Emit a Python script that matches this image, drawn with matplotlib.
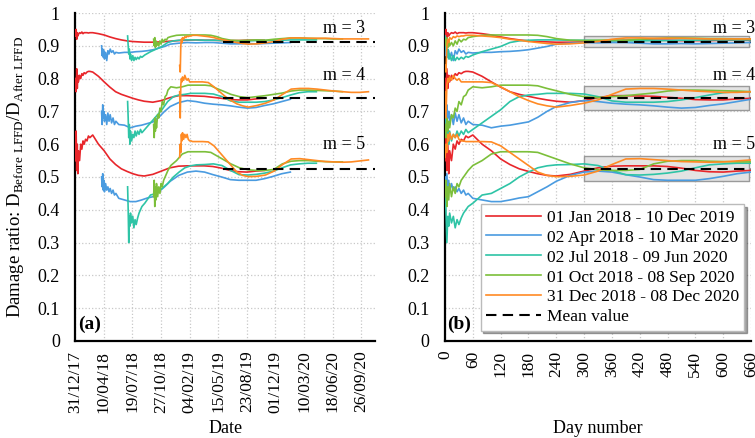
import numpy as np
import matplotlib
matplotlib.use("Agg")
import matplotlib.pyplot as plt
import matplotlib.dates as mdates

plt.rcParams["font.family"] = ["Liberation Serif", "DejaVu Serif"]
plt.rcParams["mathtext.fontset"] = "custom"
plt.rcParams["mathtext.rm"] = "Liberation Serif"
plt.rcParams["font.size"] = 13

# day number inside each monitoring window
DAYS = [0, 2, 4, 6, 8, 10, 14, 18, 22, 26, 30, 35, 40, 45, 50, 60, 80, 100, 120, 140,
        160, 180, 200, 220, 240, 270, 300, 330, 360, 390, 420, 450, 480, 510, 540, 570,
        600, 630, 660]

WINDOWS = ["01 Jan 2018 - 10 Dec 2019", "02 Apr 2018 - 10 Mar 2020", "02 Jul 2018 - 09 Jun 2020",
           "01 Oct 2018 - 08 Sep 2020", "31 Dec 2018 - 08 Dec 2020"]
STARTS = ["2018-01-01", "2018-04-02", "2018-07-02", "2018-10-01", "2018-12-31"]
COLORS = ["#e8262b", "#4a9be0", "#2ec4a6", "#7cbf3a", "#ff8a24"]

# m = 3
red_m3 = [0.93, 0.95, 0.92, 0.94, 0.93, 0.935, 0.94, 0.938, 0.942, 0.937, 0.94, 0.94, 0.94, 0.939, 0.94, 0.94,
          0.937, 0.933, 0.927, 0.922, 0.918, 0.915, 0.913, 0.912, 0.911, 0.911, 0.912, 0.914, 0.916, 0.917,
          0.918, 0.917, 0.917, 0.916, 0.916, 0.916, 0.917, 0.917, 0.917]
blue_m3 = [0.90, 0.87, 0.89, 0.865, 0.885, 0.86, 0.88, 0.855, 0.885, 0.875, 0.89, 0.88, 0.885, 0.875, 0.88, 0.878,
           0.88, 0.88, 0.882, 0.883, 0.885, 0.888, 0.893, 0.898, 0.905, 0.908, 0.91, 0.909, 0.91, 0.91,
           0.908, 0.906, 0.906, 0.907, 0.906, 0.907, 0.908, 0.909, 0.91]
teal_m3 = [0.93, 0.90, 0.875, 0.89, 0.86, 0.875, 0.855, 0.87, 0.855, 0.865, 0.858, 0.865, 0.86, 0.868, 0.865, 0.872,
           0.882, 0.89, 0.898, 0.91, 0.915, 0.917, 0.918, 0.918, 0.918, 0.917, 0.917, 0.916, 0.915, 0.915,
           0.915, 0.916, 0.916, 0.917, 0.917, 0.918, 0.918, 0.918, 0.918]
green_m3 = [0.92, 0.90, 0.925, 0.895, 0.915, 0.90, 0.91, 0.90, 0.915, 0.905, 0.92, 0.912, 0.92, 0.918, 0.925, 0.928,
            0.932, 0.933, 0.933, 0.933, 0.933, 0.933, 0.932, 0.928, 0.922, 0.917, 0.916, 0.917, 0.918, 0.917,
            0.92, 0.922, 0.924, 0.924, 0.923, 0.922, 0.922, 0.921, 0.921]
orange_m3 = [0.84, 0.82, 0.90, 0.92, 0.91, 0.925, 0.92, 0.928, 0.925, 0.93, 0.928, 0.93, 0.93, 0.932, 0.932, 0.932,
             0.93, 0.928, 0.925, 0.92, 0.917, 0.913, 0.91, 0.907, 0.905, 0.906, 0.909, 0.913, 0.92, 0.924,
             0.924, 0.923, 0.923, 0.923, 0.922, 0.921, 0.921, 0.921, 0.921]

# m = 4
red_m4 = [0.80, 0.76, 0.83, 0.77, 0.81, 0.79, 0.81, 0.80, 0.815, 0.81, 0.818, 0.815, 0.82, 0.822, 0.822, 0.82,
          0.807, 0.79, 0.774, 0.76, 0.752, 0.746, 0.74, 0.735, 0.731, 0.728, 0.733, 0.742, 0.748, 0.748,
          0.747, 0.746, 0.743, 0.74, 0.736, 0.735, 0.735, 0.738, 0.74]
blue_m4 = [0.70, 0.66, 0.72, 0.68, 0.70, 0.67, 0.69, 0.66, 0.695, 0.67, 0.69, 0.665, 0.68, 0.66, 0.67, 0.66,
           0.658, 0.65, 0.655, 0.658, 0.663, 0.668, 0.682, 0.70, 0.715, 0.727, 0.733, 0.73, 0.725, 0.722,
           0.72, 0.717, 0.713, 0.71, 0.712, 0.718, 0.723, 0.73, 0.737]
teal_m4 = [0.73, 0.68, 0.62, 0.66, 0.60, 0.64, 0.61, 0.63, 0.62, 0.64, 0.625, 0.64, 0.63, 0.645, 0.635, 0.645,
           0.665, 0.685, 0.705, 0.73, 0.745, 0.75, 0.752, 0.755, 0.755, 0.755, 0.753, 0.745, 0.732, 0.728,
           0.728, 0.728, 0.73, 0.735, 0.742, 0.75, 0.757, 0.76, 0.76]
green_m4 = [0.66, 0.62, 0.68, 0.64, 0.67, 0.65, 0.69, 0.68, 0.71, 0.70, 0.73, 0.72, 0.745, 0.75, 0.765, 0.775,
            0.772, 0.775, 0.78, 0.78, 0.78, 0.78, 0.778, 0.77, 0.763, 0.752, 0.745, 0.742, 0.745, 0.748,
            0.752, 0.756, 0.762, 0.765, 0.765, 0.764, 0.763, 0.762, 0.76]
orange_m4 = [0.76, 0.68, 0.78, 0.80, 0.79, 0.805, 0.795, 0.81, 0.80, 0.795, 0.80, 0.79, 0.79, 0.79, 0.79, 0.79,
             0.79, 0.788, 0.775, 0.76, 0.745, 0.733, 0.723, 0.717, 0.713, 0.718, 0.725, 0.735, 0.752, 0.768,
             0.77, 0.77, 0.768, 0.765, 0.762, 0.76, 0.758, 0.758, 0.76]

# m = 5
red_m5 = [0.55, 0.64, 0.52, 0.60, 0.51, 0.58, 0.55, 0.60, 0.585, 0.61, 0.60, 0.615, 0.61, 0.625, 0.62, 0.628,
          0.60, 0.58, 0.555, 0.538, 0.525, 0.517, 0.51, 0.505, 0.503, 0.508, 0.518, 0.528, 0.533, 0.534,
          0.534, 0.534, 0.532, 0.527, 0.52, 0.516, 0.515, 0.518, 0.52]
blue_m5 = [0.50, 0.47, 0.51, 0.46, 0.49, 0.455, 0.48, 0.46, 0.47, 0.455, 0.465, 0.45, 0.46, 0.445, 0.45, 0.435,
           0.43, 0.425, 0.425, 0.43, 0.436, 0.44, 0.455, 0.47, 0.487, 0.505, 0.515, 0.518, 0.515, 0.507,
           0.50, 0.492, 0.49, 0.49, 0.49, 0.495, 0.502, 0.51, 0.515]
teal_m5 = [0.47, 0.40, 0.30, 0.38, 0.35, 0.39, 0.36, 0.38, 0.345, 0.37, 0.355, 0.375, 0.39, 0.40, 0.41, 0.42,
           0.445, 0.45, 0.465, 0.48, 0.50, 0.515, 0.528, 0.534, 0.537, 0.538, 0.54, 0.535, 0.52, 0.507,
           0.506, 0.508, 0.512, 0.518, 0.528, 0.537, 0.54, 0.542, 0.542]
green_m5 = [0.44, 0.49, 0.41, 0.47, 0.43, 0.48, 0.44, 0.47, 0.45, 0.48, 0.47, 0.49, 0.50, 0.51, 0.52, 0.535,
            0.55, 0.57, 0.577, 0.577, 0.577, 0.577, 0.575, 0.565, 0.555, 0.54, 0.528, 0.522, 0.52, 0.52,
            0.523, 0.54, 0.548, 0.55, 0.55, 0.548, 0.547, 0.546, 0.546]
orange_m5 = [0.56, 0.60, 0.575, 0.63, 0.61, 0.635, 0.615, 0.63, 0.62, 0.63, 0.615, 0.61, 0.61, 0.608, 0.608, 0.608,
             0.608, 0.607, 0.595, 0.575, 0.555, 0.535, 0.515, 0.505, 0.501, 0.502, 0.506, 0.518, 0.538, 0.555,
             0.556, 0.553, 0.55, 0.547, 0.546, 0.545, 0.546, 0.549, 0.552]

SERIES = [[red_m3, red_m4, red_m5], [blue_m3, blue_m4, blue_m5], [teal_m3, teal_m4, teal_m5],
          [green_m3, green_m4, green_m5], [orange_m3, orange_m4, orange_m5]]

M_LABELS = ["m = 3", "m = 4", "m = 5"]
M_TEXT_Y = [0.954, 0.808, 0.60]
MEANS = [0.913, 0.742, 0.525]
BAND_LOW = [0.897, 0.704, 0.488]
BAND_HIGH = [0.930, 0.777, 0.564]

BASE = np.datetime64("2017-12-31")
MEAN_START_DATE = np.datetime64("2019-06-01")

fig = plt.figure(figsize=(7.55, 4.38), dpi=100)
axa = fig.add_axes([0.0997, 0.2215, 0.397, 0.7488])
axb = fig.add_axes([0.5894, 0.2215, 0.4053, 0.7488])

days = np.array(DAYS)
for i in range(5):
    dates = np.datetime64(STARTS[i]) + days.astype("timedelta64[D]")
    for vals in SERIES[i]:
        axa.plot(dates, vals, color=COLORS[i], lw=1.2, zorder=3)
        axb.plot(days, vals, color=COLORS[i], lw=1.2, zorder=3,
                 label=WINDOWS[i] if vals is SERIES[i][0] else None)

xend = BASE + np.timedelta64(1048, "D")
for k in range(3):
    axa.plot([MEAN_START_DATE, xend], [MEANS[k], MEANS[k]], color="black", ls=(0, (5, 3)), lw=1.5, zorder=4)
    axb.fill_between([300, 656], BAND_LOW[k], BAND_HIGH[k], facecolor="#e3e3e3", edgecolor="#9a9a9a",
                     lw=1.0, zorder=2)
    axb.plot([300, 660], [MEANS[k], MEANS[k]], color="black", ls=(0, (5, 3)), lw=1.5, zorder=4,
             label="Mean value" if k == 0 else None)
    axa.text(BASE + np.timedelta64(1013, "D"), M_TEXT_Y[k], M_LABELS[k], ha="right", va="center", fontsize=13)
    axb.text(668, M_TEXT_Y[k], M_LABELS[k], ha="right", va="center", fontsize=13, clip_on=False)

yt = np.round(np.arange(0, 1.01, 0.1), 1)
ylabels = ["0" if v == 0 else ("1" if v == 1 else f"{v:.1f}") for v in yt]
for ax in (axa, axb):
    ax.set_ylim(0, 1)
    ax.set_yticks(yt)
    ax.set_yticklabels(ylabels)
    ax.grid(True, color="#c8c8c8", ls=":", lw=0.9)
    ax.set_axisbelow(True)
    ax.tick_params(length=0)
    ax.tick_params(axis="y", pad=11, labelsize=13)
    ax.tick_params(axis="x", pad=7, labelsize=12.5)
    for s in ("top", "right"):
        ax.spines[s].set_visible(False)
    for s in ("left", "bottom"):
        ax.spines[s].set_linewidth(1.6)

axa.set_xlim(BASE, xend)
axa.set_xticks([BASE + np.timedelta64(100 * k, "D") for k in range(11)])
axa.xaxis.set_major_formatter(mdates.DateFormatter("%d/%m/%y"))
axa.tick_params(axis="x", labelrotation=90)
axa.set_xlabel("Date", fontsize=13)
axa.xaxis.set_label_coords(0.5, -0.24)
axa.set_ylabel(r"Damage ratio: D$_{\rm Before\ LFFD}$/D$_{\rm After\ LFFD}$", fontsize=13.5)
axa.yaxis.set_label_coords(-0.165, 0.5)
axa.text(0.008, 0.025, "(a)", transform=axa.transAxes, fontweight="bold", fontsize=14, ha="left", va="bottom")

axb.set_xlim(0, 660)
axb.set_xticks(range(0, 661, 60))
axb.tick_params(axis="x", labelrotation=90)
axb.set_xlabel("Day number", fontsize=13)
axb.xaxis.set_label_coords(0.5, -0.24)
axb.text(0.008, 0.025, "(b)", transform=axb.transAxes, fontweight="bold", fontsize=14, ha="left", va="bottom")

leg = axb.legend(loc="lower right", bbox_to_anchor=(1.005, 0.005), fontsize=12.5, frameon=True, fancybox=False,
                 shadow=True, framealpha=1, edgecolor="#bbbbbb", handlelength=3.2, labelspacing=0.22,
                 borderpad=0.3, handletextpad=0.3)
leg.set_zorder(10)

fig.savefig("out.png", dpi=100)
